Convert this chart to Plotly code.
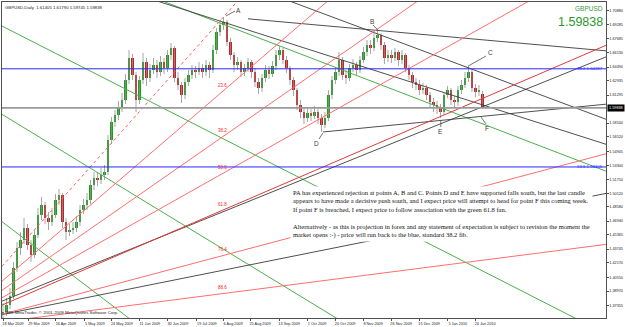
import plotly.graph_objects as go

# ---------------- data ----------------
open_ = [1.3624,1.3658,1.3738,1.3840,1.4159,1.4387,1.4478,1.4615,1.4421,1.4307,
1.4535,1.4763,1.4877,1.4729,1.4683,1.4763,1.4934,1.4991,1.4683,1.4569,
1.4592,1.4615,1.4683,1.4820,1.4877,1.4934,1.5105,1.5184,1.5162,1.5219,
1.5253,1.5617,1.5822,1.5902,1.5982,1.6073,1.6301,1.6552,1.6358,1.6073,
1.6301,1.6506,1.6324,1.6415,1.6472,1.6392,1.6506,1.6438,1.6586,1.6666,
1.6324,1.6244,1.6130,1.6278,1.6358,1.6415,1.6392,1.6438,1.6392,1.6472,
1.6415,1.6643,1.6848,1.6928,1.6962,1.6734,1.6586,1.6472,1.6506,1.6392,
1.6438,1.6506,1.6392,1.6278,1.6210,1.6324,1.6415,1.6369,1.6460,1.6586,
1.6643,1.6529,1.6438,1.6301,1.6187,1.6016,1.5936,1.5868,1.5925,1.5891,
1.5936,1.5868,1.5788,1.5868,1.6130,1.6301,1.6392,1.6529,1.6358,1.6324,
1.6438,1.6472,1.6415,1.6529,1.6620,1.6700,1.6666,1.6780,1.6814,1.6700,
1.6552,1.6586,1.6552,1.6620,1.6529,1.6586,1.6438,1.6358,1.6278,1.6244,
1.6187,1.6210,1.6130,1.6050,1.6016,1.5982,1.5936,1.6130,1.6187,1.6073,
1.6050,1.6187,1.6244,1.6324,1.6392,1.6210,1.6164,1.61405]
close = [1.3658,1.3738,1.3840,1.4159,1.4387,1.4478,1.4615,1.4421,1.4307,1.4535,
1.4763,1.4877,1.4729,1.4683,1.4763,1.4934,1.4991,1.4683,1.4569,1.4592,
1.4615,1.4683,1.4820,1.4877,1.4934,1.5105,1.5184,1.5162,1.5219,1.5253,
1.5617,1.5822,1.5902,1.5982,1.6073,1.6301,1.6552,1.6358,1.6073,1.6301,
1.6506,1.6324,1.6415,1.6472,1.6392,1.6506,1.6438,1.6586,1.6666,1.6324,
1.6244,1.6130,1.6278,1.6358,1.6415,1.6392,1.6438,1.6392,1.6472,1.6415,
1.6643,1.6848,1.6928,1.6962,1.6734,1.6586,1.6472,1.6506,1.6392,1.6438,
1.6506,1.6392,1.6278,1.6210,1.6324,1.6415,1.6369,1.6460,1.6586,1.6643,
1.6529,1.6438,1.6301,1.6187,1.6016,1.5936,1.5868,1.5925,1.5891,1.5936,
1.5868,1.5788,1.5868,1.6130,1.6301,1.6392,1.6529,1.6358,1.6324,1.6438,
1.6472,1.6415,1.6529,1.6620,1.6700,1.6666,1.6780,1.6814,1.6700,1.6552,
1.6586,1.6552,1.6620,1.6529,1.6586,1.6438,1.6358,1.6278,1.6244,1.6187,
1.6210,1.6130,1.6050,1.6016,1.5982,1.5936,1.6130,1.6187,1.6073,1.6050,
1.6187,1.6244,1.6324,1.6392,1.6210,1.6164,1.6187,1.59838]
high = [1.3760,1.3817,1.3931,1.4227,1.4455,1.4569,1.4729,1.4660,1.4478,1.4592,
1.4843,1.4968,1.4911,1.4797,1.4843,1.5002,1.5059,1.5014,1.4729,1.4660,
1.4683,1.4752,1.4877,1.4945,1.5014,1.5162,1.5253,1.5241,1.5298,1.5333,
1.5674,1.5879,1.5959,1.6062,1.6153,1.6369,1.6643,1.6597,1.6392,1.6347,
1.6609,1.6552,1.6483,1.6552,1.6529,1.6574,1.6552,1.6643,1.6723,1.6688,
1.6392,1.6278,1.6324,1.6415,1.6472,1.6460,1.6506,1.6483,1.6529,1.6506,
1.6700,1.6893,1.6985,1.7019,1.6985,1.6780,1.6620,1.6563,1.6529,1.6483,
1.6552,1.6529,1.6438,1.6324,1.6369,1.6472,1.6460,1.6517,1.6643,1.6688,
1.6666,1.6574,1.6460,1.6335,1.6210,1.6073,1.5982,1.5982,1.5971,1.6005,
1.5971,1.5914,1.5936,1.6187,1.6347,1.6449,1.6620,1.6563,1.6415,1.6483,
1.6540,1.6506,1.6574,1.6677,1.6757,1.6757,1.6836,1.6871,1.6836,1.6734,
1.6643,1.6643,1.6666,1.6643,1.6643,1.6609,1.6472,1.6392,1.6324,1.6301,
1.6267,1.6244,1.6164,1.6096,1.6062,1.6028,1.6164,1.6233,1.6210,1.6119,
1.6233,1.6301,1.6392,1.6460,1.6415,1.6255,1.6244,1.61790]
low = [1.3567,1.3612,1.3692,1.3806,1.4114,1.4307,1.4433,1.4364,1.4227,1.4273,
1.4501,1.4706,1.4660,1.4592,1.4638,1.4729,1.4877,1.4615,1.4478,1.4524,
1.4546,1.4569,1.4638,1.4774,1.4820,1.4888,1.5048,1.5093,1.5116,1.5162,
1.5219,1.5572,1.5766,1.5845,1.5936,1.6028,1.6255,1.6301,1.5936,1.6028,
1.6255,1.6233,1.6278,1.6369,1.6324,1.6347,1.6369,1.6392,1.6529,1.6278,
1.6187,1.6039,1.6085,1.6233,1.6312,1.6324,1.6358,1.6324,1.6347,1.6324,
1.6381,1.6597,1.6802,1.6871,1.6688,1.6529,1.6392,1.6415,1.6335,1.6347,
1.6392,1.6324,1.6221,1.6141,1.6164,1.6278,1.6312,1.6335,1.6415,1.6529,
1.6483,1.6381,1.6244,1.6119,1.5959,1.5868,1.5800,1.5822,1.5834,1.5857,
1.5800,1.5709,1.5754,1.5834,1.6085,1.6255,1.6347,1.6301,1.6255,1.6290,
1.6392,1.6358,1.6381,1.6495,1.6574,1.6597,1.6631,1.6734,1.6643,1.6483,
1.6506,1.6495,1.6517,1.6460,1.6483,1.6392,1.6301,1.6210,1.6187,1.6130,
1.6141,1.6073,1.5982,1.5936,1.5914,1.5868,1.5902,1.6096,1.6016,1.5982,
1.6005,1.6141,1.6210,1.6278,1.6164,1.6107,1.6119,1.59745]

date_labels = ["18 Mar 2009", "29 Mar 2009", "16 Apr 2009", "5 May 2009", "24 May 2009",
               "11 Jun 2009", "30 Jun 2009", "19 Jul 2009", "6 Aug 2009", "25 Aug 2009",
               "13 Sep 2009", "1 Oct 2009", "20 Oct 2009", "8 Nov 2009", "26 Nov 2009",
               "15 Dec 2009", "5 Jan 2010", "24 Jan 2010"]
date_ticks = [0, 7.4, 15.1, 23.4, 31.1, 39.1, 47.1, 55.4, 62.9, 70.6, 78.9, 86.9,
              94.9, 102.9, 110.9, 118.9, 127.1, 134.9]
price_ticks = [1.35780, 1.37355, 1.38970, 1.40550, 1.42170, 1.43745, 1.45365, 1.46940,
               1.48580, 1.50120, 1.51710, 1.53300, 1.54905, 1.56520, 1.58100, 1.61295,
               1.62935, 1.64490, 1.66130, 1.67685, 1.69285, 1.70880]
last_price = 1.59838
info_line = "GBPUSD,Daily  1.61405 1.61790 1.59745 1.59838"
symbol = "GBPUSD"

blue_levels = [1.64287, 1.53105]
blue_names = ["38.2", "23.6"]

fan_origin = (-16.2, 1.3464)
fan_peak = (63.0, 1.7019)
fan_levels = [0.0, 23.6, 38.2, 50.0, 61.8, 76.4, 88.6]

black_rays = [((70.0, 1.6998), (172.9, 1.6631)),
              ((91.4, 1.5709), (172.9, 1.6028))]
black_lines = [((82.6, 1.7190), (172.9, 1.5845)),
               ((44.9, 1.7190), (172.9, 1.5561)),
               ((-0.9, 1.3624), (172.9, 1.5014)),
               ((-0.9, 1.3772), (172.9, 1.6574))]
green_lines = [((46.3, 1.7190), (172.9, 1.5253)),
               ((-0.9, 1.6928), (164.0, 1.3578)),
               ((-0.9, 1.5925), (95.7, 1.3578)),
               ((-0.9, 1.4706), (36.3, 1.3578))]

point_names = ["A", "B", "C", "D", "E", "F"]
point_callouts = [((63.7, 1.7030), (66.3, 1.7087)),
                  ((107.1, 1.6871), (105.7, 1.6928)),
                  ((132.9, 1.6460), (138.0, 1.6574)),
                  ((91.4, 1.5697), (90.3, 1.5629)),
                  ((125.1, 1.5845), (125.1, 1.5766)),
                  ((136.6, 1.5879), (138.0, 1.5800))]

note = ("PA has experienced rejection at points A, B and C. Points D and E have supported falls south, but the last candle<br>"
        "appears to have made a decisive push south, and I expect price will attempt to head for point F this coming week.<br>"
        "If point F is breached, I expect price to follow association with the green 61.8 fan.<br><br>"
        "Alternatively - as this is projection in forex and any statement of expectation is subject to revision the moment the<br>"
        "market opens :-) - price will run back to the blue, standard 38.2 fib.")
copyright_txt = "GBL MetaTrader, \u00a9 2001-2009 MetaQuotes Software Corp."

# ---------------- figure ----------------
XR = [-0.29, 172.3]
YR = [1.3590, 1.71896]
SANS = "Liberation Sans"

candle_num = list(range(len(close)))
fig = go.Figure()

# wicks
wx, wy = [], []
for i in candle_num:
    wx += [i, i, None]
    wy += [low[i], high[i], None]
fig.add_trace(go.Scatter(x=wx, y=wy, mode="lines", line=dict(color="#8f8f8f", width=0.8),
                         hoverinfo="skip", showlegend=False))
# bodies
body_col = ["#1f9e1f" if c >= o else "#cc1f1f" for o, c in zip(open_, close)]
fig.add_trace(go.Bar(x=candle_num, y=[c - o for o, c in zip(open_, close)], base=open_,
                     width=0.6, marker=dict(color=body_col, line=dict(width=0)),
                     hoverinfo="skip", showlegend=False))


def full_line(p0, p1, xa=-40, xb=220):
    (x0, y0), (x1, y1) = p0, p1
    s = (y1 - y0) / (x1 - x0)
    return [xa, xb], [y0 + s * (xa - x0), y0 + s * (xb - x0)]


def add_line(xs, ys, color, width=1, dash="solid"):
    fig.add_trace(go.Scatter(x=xs, y=ys, mode="lines",
                             line=dict(color=color, width=width, dash=dash),
                             hoverinfo="skip", showlegend=False))


# green fan
for p0, p1 in green_lines:
    xs, ys = full_line(p0, p1)
    add_line(xs, ys, "#4caf4c", 1)

# black trend lines
for p0, p1 in black_lines:
    xs, ys = full_line(p0, p1)
    add_line(xs, ys, "#3c3c3c", 0.9)
for p0, p1 in black_rays:
    xs, ys = full_line(p0, p1, xa=p0[0])
    add_line(xs, ys, "#3c3c3c", 0.9)

# red fibonacci fan
ox, op = fan_origin
ax_, ap = fan_peak
annotations = []
for lev in fan_levels:
    t = ap - lev / 100.0 * (ap - op)
    xs, ys = full_line((ox, op), (ax_, t), xa=ox)
    if lev == 0:
        add_line(xs, ys, "#ff5a5a", 1, "dot")
    else:
        add_line(xs, ys, "#e23a3a" if lev == 61.8 else "#ff6e6e", 1)
        annotations.append(dict(x=ax_ - 0.4, y=t, xref="x", yref="y", text=f"{lev:.1f}",
                                showarrow=False, yanchor="bottom", yshift=1,
                                font=dict(family=SANS, size=4.5, color="#ff2020")))

# blue fib levels
for lv, nm in zip(blue_levels, blue_names):
    add_line(XR, [lv, lv], "#2828ff", 1)
    annotations.append(dict(x=1, y=lv, xref="paper", yref="y", text=f"{nm} {lv:.5f}",
                            showarrow=False, xanchor="right", yanchor="middle", xshift=-1,
                            font=dict(family=SANS, size=4.3, color="#2828ff")))

# current price line
add_line(XR, [last_price, last_price], "#9a9a9a", 1.8)

# callouts for points
for nm, (p0, p1) in zip(point_names, point_callouts):
    add_line([p0[0], p1[0]], [p0[1], p1[1]], "#505050", 0.8)
label_pos = [(67.4, 1.7098), (105.4, 1.6973), (139.4, 1.6609),
             (89.7, 1.5583), (125.1, 1.5720), (138.3, 1.5754)]
for nm, (lx, ly) in zip(point_names, label_pos):
    annotations.append(dict(x=lx, y=ly, xref="x", yref="y", text=nm, showarrow=False,
                            font=dict(family=SANS, size=6.5, color="#404040")))

# note text box
annotations.append(dict(x=0.476, y=0.418, xref="paper", yref="paper", text=note,
                        showarrow=False, xanchor="left", yanchor="top", align="left",
                        bgcolor="white", borderpad=2,
                        font=dict(family="Liberation Serif", size=6.5, color="#111111")))
# info texts
annotations.append(dict(x=0.002, y=0.998, xref="paper", yref="paper", text=info_line,
                        showarrow=False, xanchor="left", yanchor="top",
                        font=dict(family=SANS, size=4.3, color="#222222")))
annotations.append(dict(x=0.002, y=0.004, xref="paper", yref="paper", text=copyright_txt,
                        showarrow=False, xanchor="left", yanchor="bottom",
                        font=dict(family=SANS, size=4.3, color="#222222")))
annotations.append(dict(x=0.998, y=0.998, xref="paper", yref="paper", text=symbol,
                        showarrow=False, xanchor="right", yanchor="top",
                        font=dict(family=SANS, size=6.5, color="#3a9a3a")))
annotations.append(dict(x=0.998, y=0.965, xref="paper", yref="paper", text=f"{last_price:.5f}",
                        showarrow=False, xanchor="right", yanchor="top",
                        font=dict(family=SANS, size=12.5, color="#2e962e")))
# current price box on the axis
annotations.append(dict(x=1, y=last_price, xref="paper", yref="y", text=f"{last_price:.5f}",
                        showarrow=False, xanchor="left", yanchor="middle", xshift=1,
                        bgcolor="black", borderpad=1,
                        font=dict(family=SANS, size=3.8, color="white")))

fig.update_layout(
    width=625, height=327,
    margin=dict(l=2, r=19, t=2, b=9),
    paper_bgcolor="white", plot_bgcolor="white",
    showlegend=False, bargap=0,
    annotations=annotations,
    xaxis=dict(range=XR, showgrid=False, zeroline=False, showline=True, mirror=True,
               linecolor="#505050", linewidth=1, ticks="outside", ticklen=1.5,
               tickcolor="#505050", tickvals=date_ticks, ticktext=date_labels,
               tickfont=dict(family=SANS, size=3.8, color="#222222"),
               ticklabelshift=10, automargin=False, fixedrange=True),
    yaxis=dict(range=YR, side="right", showgrid=False, zeroline=False, showline=True,
               mirror=True, linecolor="#505050", linewidth=1, ticks="outside", ticklen=1.5,
               tickcolor="#505050", tickvals=price_ticks,
               ticktext=[f"{v:.5f}" for v in price_ticks],
               tickfont=dict(family=SANS, size=3.8, color="#222222"),
               automargin=False, fixedrange=True),
)

fig.write_html("out.html")
